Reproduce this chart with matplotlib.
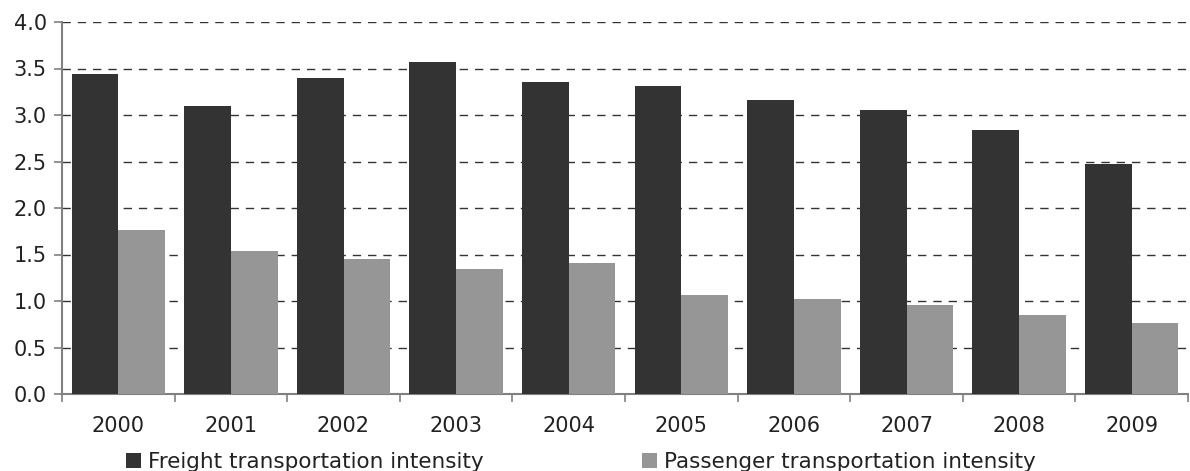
import numpy as np
import matplotlib
matplotlib.use("Agg")
import matplotlib.pyplot as plt

years = ["2000", "2001", "2002", "2003", "2004", "2005", "2006", "2007", "2008", "2009"]
freight = [3.44, 3.10, 3.40, 3.57, 3.35, 3.31, 3.16, 3.05, 2.84, 2.47]
passenger = [1.76, 1.54, 1.45, 1.34, 1.41, 1.06, 1.02, 0.96, 0.85, 0.76]
y_ticks = [0.0, 0.5, 1.0, 1.5, 2.0, 2.5, 3.0, 3.5, 4.0]

plt.rcParams["font.family"] = ["DejaVu Sans"]

fig = plt.figure(figsize=(11.9, 4.71), dpi=100)
ax = fig.add_axes([62 / 1190, 1 - 394 / 471, 1126 / 1190, 372 / 471])

x = np.arange(len(years))
w = 0.415
b1 = ax.bar(x - w / 2, freight, w, color="#333333", label="Freight transportation intensity", zorder=3)
b2 = ax.bar(x + w / 2, passenger, w, color="#969696", label="Passenger transportation intensity", zorder=3)

ax.set_xlim(-0.5, len(years) - 0.5)
ax.set_ylim(0, 4.0)
ax.set_yticks(y_ticks)
ax.set_yticklabels([f"{v:.1f}" for v in y_ticks], fontsize=15, color="#222222")

ax.set_xticks(x)
ax.set_xticklabels(years, fontsize=15, color="#222222")
ax.tick_params(axis="x", which="major", length=0, pad=16)
ax.set_xticks(np.arange(-0.5, len(years)), minor=True)
ax.tick_params(axis="x", which="minor", length=6, color="#808080", width=1.2)
ax.tick_params(axis="y", length=6, color="#808080", width=1.2, pad=5)

for v in y_ticks[1:]:
    ax.axhline(v, color="#333333", lw=1, linestyle=(0, (6, 5)), zorder=1)

for s in ["top", "right"]:
    ax.spines[s].set_visible(False)
for s in ["left", "bottom"]:
    ax.spines[s].set_color("#808080")
    ax.spines[s].set_linewidth(1.5)

legend_opts = dict(loc="center left", frameon=False, fontsize=15.5, handlelength=0.7,
                   handleheight=0.7, handletextpad=0.3, borderpad=0, borderaxespad=0,
                   labelcolor="#222222")
fig.legend(handles=[b1], bbox_to_anchor=(126 / 1190, 1 - 462 / 471), **legend_opts)
fig.legend(handles=[b2], bbox_to_anchor=(642 / 1190, 1 - 462 / 471), **legend_opts)

fig.savefig("out.png", dpi=100)
